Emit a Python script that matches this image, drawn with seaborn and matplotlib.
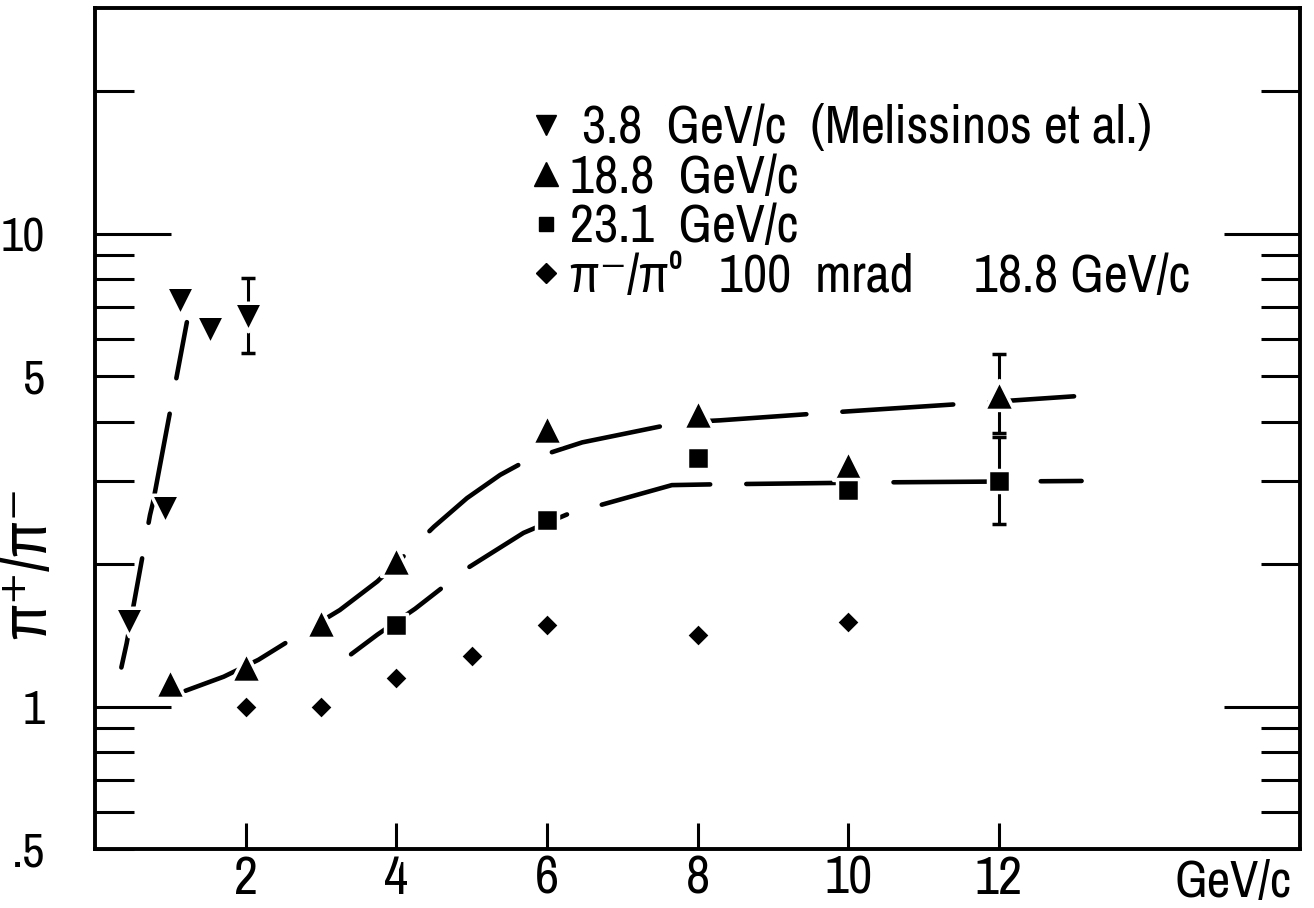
import matplotlib
matplotlib.use("Agg")
import matplotlib.pyplot as plt
from matplotlib.lines import Line2D
from matplotlib.ticker import FixedLocator, FixedFormatter
from matplotlib import font_manager
import pandas as pd
import seaborn as sns

# ---------------- data ----------------
# 3.8 GeV/c (Melissinos et al)  -- down triangles
p38_x = [0.45, 0.93, 1.13, 1.53, 2.03]
p38_y = [1.51, 2.62, 7.19, 6.27, 6.68]
p38_err_x = [2.03]
p38_err_lo = [5.58]
p38_err_hi = [8.04]

# 18.8 GeV/c -- up triangles
p188_x = [1.0, 2.0, 3.0, 4.0, 6.0, 8.0, 10.0, 12.0]
p188_y = [1.12, 1.21, 1.50, 2.03, 3.86, 4.16, 3.24, 4.55]
p188_err_x = [12.0]
p188_err_lo = [3.79]
p188_err_hi = [5.56]

# 23.1 GeV/c -- squares
p231_x = [4.0, 6.0, 8.0, 10.0, 12.0]
p231_y = [1.49, 2.48, 3.35, 2.87, 3.00]
p231_err_x = [12.0]
p231_err_lo = [2.43]
p231_err_hi = [3.71]

# pi-/pi0 100 mrad 18.8 GeV/c -- diamonds
pdm_x = [2.0, 3.0, 4.0, 5.0, 6.0, 8.0, 10.0]
pdm_y = [1.00, 1.00, 1.15, 1.28, 1.49, 1.42, 1.51]

# hand-drawn guide curves
c38_x = [0.35, 0.42, 0.73, 0.77, 1.22]
c38_y = [1.21, 1.36, 2.54, 2.70, 6.50]
c188_x = [1.2, 1.71, 2.17, 2.6, 3.25, 3.75, 4.18, 4.5, 4.94, 5.38, 5.74, 6.47, 7.77, 8.3, 9.8, 11.65, 13.0]
c188_y = [1.08, 1.157, 1.256, 1.385, 1.60, 1.84, 2.14, 2.40, 2.76, 3.09, 3.32, 3.62, 3.99, 4.03, 4.19, 4.38, 4.53]
c231_x = [3.4, 3.75, 4.25, 4.94, 5.69, 6.27, 7.66, 8.16, 10.5, 13.1]
c231_y = [1.29, 1.42, 1.61, 1.96, 2.33, 2.55, 2.94, 2.95, 2.98, 3.00]

legend_labels = [" 3.8  GeV/c  (Melissinos et al.)",
                 "18.8  GeV/c",
                 "23.1  GeV/c",
                 "π\u207b/π\u2070   100  mrad     18.8 GeV/c"]

ymajor = [1, 10]
ymajor_labels = ["1", "10"]
yminor = [0.5, 0.6, 0.7, 0.8, 0.9, 2, 3, 4, 5, 6, 7, 8, 9, 20]
yminor_labels = [".5", "", "", "", "", "", "", "", "5", "", "", "", "", ""]
xticks = [2, 4, 6, 8, 10, 12]
xtick_labels = ["2", "4", "6", "8", "10", "12"]

# ---------------- style ----------------
sns.set_style("ticks")
ttf = font_manager.fontManager.ttflist
narrow = [f.name for f in ttf if ("Narrow" in f.name or "Condensed" in f.name)]
dv_cond = [f for f in ttf if f.name == "DejaVu Sans" and "Condensed" in f.fname]
if narrow:
    main_font = narrow[0]
elif dv_cond:
    main_font = "DejaVu Sans"
    plt.rcParams["font.stretch"] = "condensed"
else:
    main_font = "Roboto"
plt.rcParams["font.family"] = [main_font, "DejaVu Sans"]
plt.rcParams["lines.scale_dashes"] = False
for k in ["text.color", "axes.labelcolor", "xtick.color", "ytick.color", "axes.edgecolor"]:
    plt.rcParams[k] = "black"

fig = plt.figure(figsize=(13.14, 9.08), dpi=100)
ax = fig.add_axes([95 / 1314, 59 / 908, 1205 / 1314, 841 / 908])
ax.set_yscale("log")
ax.set_xlim(0, 16)
ax.set_ylim(0.5, 30)

dash = (0, (80, 26))
for cx, cy in [(c38_x, c38_y), (c188_x, c188_y), (c231_x, c231_y)]:
    sns.lineplot(x=cx, y=cy, ax=ax, color="black", lw=3.3, linestyle=dash,
                 sort=False, estimator=None, dash_capstyle="round", zorder=2)

def errbars(xs, lo, hi, ys):
    ax.errorbar(xs, ys, yerr=[[y - l for y, l in zip(ys, lo)], [h - y for y, h in zip(ys, hi)]],
                fmt="none", ecolor="black", elinewidth=2.2, capsize=5, capthick=2.5, zorder=2)

errbars(p38_err_x, p38_err_lo, p38_err_hi, [p38_y[-1]])
errbars(p188_err_x, p188_err_lo, p188_err_hi, [p188_y[-1]])
errbars(p231_err_x, p231_err_lo, p231_err_hi, [p231_y[-1]])

sets = [
    (p38_x, p38_y, "v", 20.5 ** 2),
    (p188_x, p188_y, "^", 21.5 ** 2),
    (p231_x, p231_y, "s", 15.5 ** 2),
    (pdm_x, pdm_y, "D", 12.5 ** 2),
]
for xs, ys, mk, s in sets:
    df = pd.DataFrame({"p": xs, "r": ys})
    sns.scatterplot(data=df, x="p", y="r", marker=mk, s=s, color="black",
                    edgecolor="white", linewidth=2.5, ax=ax, zorder=3, legend=False)

# axes & ticks
for sp in ax.spines.values():
    sp.set_linewidth(2.8)
    sp.set_visible(True)

ax.yaxis.set_major_locator(FixedLocator(ymajor))
ax.yaxis.set_major_formatter(FixedFormatter(ymajor_labels))
ax.yaxis.set_minor_locator(FixedLocator(yminor))
ax.yaxis.set_minor_formatter(FixedFormatter(yminor_labels))
ax.tick_params(axis="y", which="major", direction="in", length=55, width=2.2,
               left=True, right=True, labelsize=35, pad=36)
ax.tick_params(axis="y", which="minor", direction="in", length=28, width=2.2,
               left=True, right=True, labelsize=35, pad=36)
ax.set_xticks(xticks)
ax.set_xticklabels(xtick_labels)
ax.tick_params(axis="x", which="major", direction="in", length=19, width=2.2,
               bottom=True, top=False, labelsize=38, pad=4)
ax.tick_params(axis="x", which="minor", bottom=False, top=False)

ax.set_xlabel("")
ax.set_ylabel("π\u207a/π\u207b", fontsize=46)
ax.yaxis.set_label_coords(-0.031, 0.34)
fig.text(1292 / 1314, 2 / 908, "GeV/c", ha="right", va="bottom", fontsize=37)

handles = [
    Line2D([], [], ls="none", marker="v", ms=15, color="black"),
    Line2D([], [], ls="none", marker="^", ms=17, color="black"),
    Line2D([], [], ls="none", marker="s", ms=10, color="black"),
    Line2D([], [], ls="none", marker="D", ms=10, color="black"),
]
leg = ax.legend(handles, legend_labels, loc="upper left",
                bbox_to_anchor=(535 / 1314, 1 - 104 / 908), bbox_transform=fig.transFigure,
                frameon=False, fontsize=38, handlelength=0.42, handletextpad=0.25,
                labelspacing=0.03, borderpad=0, borderaxespad=0)

fig.savefig("out.png", dpi=100)
